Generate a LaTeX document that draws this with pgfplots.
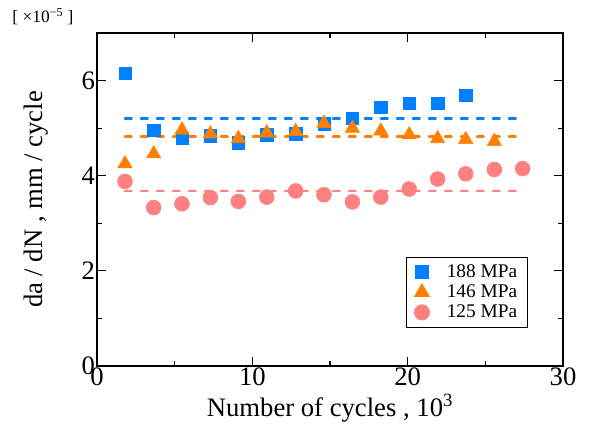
\documentclass[border=0pt]{standalone}
\usepackage{fontspec}
\setmainfont{Liberation Serif}
\usepackage{pgfplots}
\pgfplotsset{compat=1.18}
\definecolor{cblue}{RGB}{0,128,255}
\definecolor{corange}{RGB}{255,128,0}
\definecolor{cpink}{RGB}{255,128,128}
\begin{document}
\begin{tikzpicture}
\path[use as bounding box] (-72.75pt,-51.75pt) rectangle (372pt,274.5pt);
\begin{axis}[
  at={(0,0)}, anchor=south west,
  scale only axis, width=349.5pt, height=249.75pt,
  xmin=0, xmax=30, ymin=0, ymax=7,
  xtick={0,10,20,30}, minor xtick={5,15,25},
  xticklabels={0,10,20,30},
  ytick={0,2,4,6}, minor ytick={1,3,5},
  yticklabels={0,2,4,6},
  tick align=inside,
  major tick length=6.5pt, minor tick length=3.5pt,
  every tick/.style={black, line width=0.8pt},
  axis line style={line width=0.9pt},
  tick label style={font=\fontsize{20}{20}\selectfont},
  xticklabel style={yshift=2pt},
  yticklabel style={xshift=2pt},
  label style={font=\fontsize{20}{20}\selectfont},
  xlabel={Number of cycles , 10\textsuperscript{3}},
  ylabel={da / dN , mm / cycle},
  xlabel style={at={(axis description cs:0.5,-0.128)}, anchor=center},
  ylabel style={at={(axis description cs:-0.13,0.5)}, anchor=center},
  legend style={at={(0.663,0.328)}, anchor=north west, draw=black, line width=0.8pt,
    font=\fontsize{14.5}{14.5}\selectfont, row sep=0pt, inner xsep=6pt, inner ysep=3.5pt,
    /tikz/every even column/.append style={column sep=6pt},
    /tikz/every odd column/.append style={column sep=11pt}},
  legend cell align=left,
  clip=false,
]
\addplot[only marks, mark=square*, mark size=4.6pt, color=cblue] coordinates {
(1.80,6.16) (3.65,4.95) (5.47,4.79) (7.30,4.84) (9.10,4.69) (10.93,4.86) (12.79,4.88)
(14.61,5.09) (16.44,5.21) (18.27,5.44) (20.10,5.53) (21.93,5.52) (23.74,5.69)
};
\addlegendentry{188 MPa}
\addplot[only marks, mark=triangle*, mark size=6.2pt, color=corange] coordinates {
(1.80,4.25) (3.65,4.46) (5.47,4.96) (7.30,4.88) (9.10,4.78) (10.93,4.90) (12.79,4.93)
(14.61,5.10) (16.44,5.00) (18.27,4.94) (20.10,4.86) (21.93,4.78) (23.74,4.76) (25.58,4.72)
};
\addlegendentry{146 MPa}
\addplot[only marks, mark=*, mark size=5.6pt, color=cpink] coordinates {
(1.80,3.88) (3.65,3.33) (5.47,3.41) (7.30,3.54) (9.10,3.46) (10.93,3.55) (12.79,3.68)
(14.61,3.60) (16.44,3.45) (18.27,3.55) (20.10,3.72) (21.93,3.93) (23.74,4.04) (25.58,4.13) (27.40,4.15)
};
\addlegendentry{125 MPa}
\addplot[cblue, line width=2pt, line cap=round, dash pattern=on 5pt off 7pt, forget plot] coordinates {(1.8,5.2) (27.3,5.2)};
\addplot[corange, line width=2pt, line cap=round, dash pattern=on 5pt off 7pt, forget plot] coordinates {(1.8,4.82) (27.3,4.82)};
\addplot[cpink, line width=2pt, line cap=round, dash pattern=on 5pt off 7pt, forget plot] coordinates {(1.8,3.68) (27.3,3.68)};
\node[font=\fontsize{13}{13}\selectfont, anchor=center] at (axis description cs:-0.116,1.048) {[ ×10\textsuperscript{\char"2212 5} ]};
\end{axis}
\end{tikzpicture}
\end{document}
